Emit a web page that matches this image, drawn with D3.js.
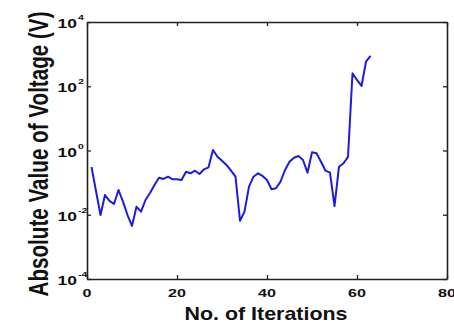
<!DOCTYPE html>
<html>
<head>
<meta charset="utf-8">
<script src="https://cdn.jsdelivr.net/npm/d3@7"></script>
<style>
body{margin:0;background:#fff}
text{font-family:"Liberation Sans",Arial,sans-serif;font-weight:bold;fill:#111}
</style>
</head>
<body>
<div id="chart"></div>
<script>
var iterations = [1,2,3,4,5,6,7,8,9,10,11,12,13,14,15,16,17,18,19,20,
	21,22,23,24,25,26,27,28,29,30,31,32,33,34,35,36,37,38,39,40,
	41,42,43,44,45,46,47,48,49,50,51,52,53,54,55,56,57,58,59,60,61,62,63]
var voltage = [0.306,0.055,0.0098,0.041,0.027,0.0216,0.059,0.0255,0.0098,0.0045,
	0.0178,0.0125,0.0288,0.0475,0.0844,0.142,0.130,0.153,0.127,0.127,
	0.121,0.219,0.195,0.235,0.185,0.26,0.30,1.04,0.64,0.48,
	0.354,0.235,0.153,0.0065,0.0125,0.075,0.153,0.195,0.161,0.121,
	0.062,0.0666,0.107,0.247,0.448,0.597,0.674,0.506,0.204,0.88,
	0.82,0.448,0.235,0.204,0.0187,0.313,0.40,0.63,253,157,102,581,875]
var xTicks = [0,20,40,60,80]
var yTicks = [1e-4,1e-2,1,1e2,1e4]
var yExp = ['-4','-2','0','2','4']

var W = 454, H = 323
var pL = 87, pR = 447, pT = 22, pB = 279
var sx = 1.4 // the picture is stretched sideways

var x = d3.scaleLinear().domain([0,80]).range([pL,pR])
var y = d3.scaleLog().domain([1e-4,1e4]).range([pB,pT])

var svg = d3.select('#chart').append('svg')
	.attr('width',W).attr('height',H)

// box + inward ticks
var axes = svg.append('g').attr('class','axes')
axes.append('g').attr('transform','translate(0,'+pB+')')
	.call(d3.axisBottom(x).tickValues(xTicks).tickSize(-4).tickSizeOuter(0).tickFormat(''))
axes.append('g').attr('transform','translate(0,'+pT+')')
	.call(d3.axisTop(x).tickValues(xTicks).tickSize(-4).tickSizeOuter(0).tickFormat(''))
axes.append('g').attr('transform','translate('+pL+',0)')
	.call(d3.axisLeft(y).tickValues(yTicks).tickSize(-4).tickSizeOuter(0).tickFormat(''))
axes.append('g').attr('transform','translate('+pR+',0)')
	.call(d3.axisRight(y).tickValues(yTicks).tickSize(-4).tickSizeOuter(0).tickFormat(''))
axes.selectAll('.domain').attr('stroke','#222').attr('stroke-width',1.6)
axes.selectAll('.tick line').attr('stroke','#222').attr('stroke-width',1.3)

// line
svg.append('path')
	.datum(iterations.map((d,i)=>[d,voltage[i]]))
	.attr('fill','none')
	.attr('stroke','#1c1ce0')
	.attr('stroke-width',2)
	.attr('stroke-linejoin','round')
	.attr('d',d3.line().x(d=>x(d[0])).y(d=>y(d[1])))

// x tick labels
svg.append('g').selectAll('text').data(xTicks).enter().append('text')
	.attr('transform',d=>'translate('+x(d)+','+(pB+18)+') scale('+sx+',1)')
	.attr('text-anchor','middle')
	.style('font-size','11.5px')
	.text(d=>d)

// y tick labels 10^n
var yl = svg.append('g')
yTicks.forEach((d,i)=>{
	yl.append('text')
		.attr('transform','translate(77,'+(y(d)+6)+') scale('+sx+',1)')
		.attr('text-anchor','end')
		.style('font-size','12.5px')
		.text('10')
	yl.append('text')
		.attr('transform','translate(78,'+(y(d)-2)+') scale('+sx+',1)')
		.style('font-size','7.5px')
		.text(yExp[i])
})

// axis titles
svg.append('text')
	.attr('x',266).attr('y',320)
	.attr('text-anchor','middle')
	.attr('textLength',163).attr('lengthAdjust','spacingAndGlyphs')
	.style('font-size','19px')
	.text('No. of Iterations')

svg.append('text')
	.attr('transform','translate(48,154) scale('+sx+',1) rotate(-90)')
	.attr('text-anchor','middle')
	.attr('textLength',285).attr('lengthAdjust','spacingAndGlyphs')
	.style('font-size','20px')
	.text('Absolute Value of Voltage (V)')
</script>
</body>
</html>
